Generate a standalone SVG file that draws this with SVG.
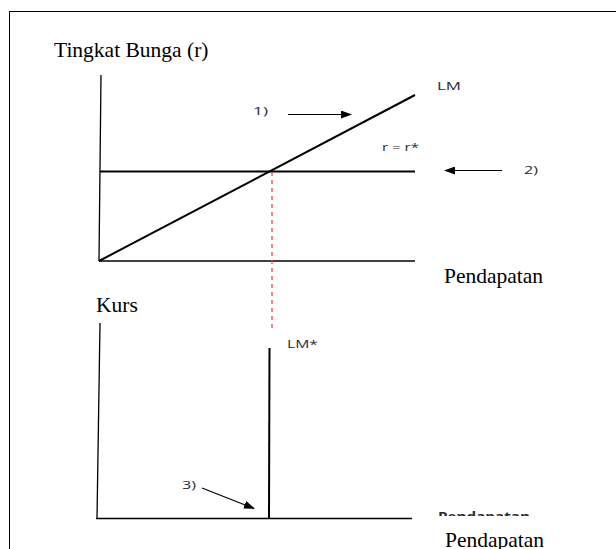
<svg xmlns="http://www.w3.org/2000/svg" width="616" height="549" viewBox="0 0 616 549">
<style>
.serif{font-family:"Liberation Serif","Times New Roman",serif;font-size:21.5px;fill:#000}
.small{font-family:"Open Sans","Liberation Sans",sans-serif;font-size:11.5px;fill:#2a2a33}
.ax{stroke:#000;stroke-width:1.3;fill:none}
.ln{stroke:#000;stroke-width:2;fill:none}
.arr{stroke:#000;stroke-width:1.2;fill:none}
</style>
<defs>
<marker id="ah" markerWidth="11" markerHeight="8" refX="10" refY="4" orient="auto" markerUnits="userSpaceOnUse">
<path d="M0,0 L11,4 L0,8 Z" fill="#000"/>
</marker>
<clipPath id="cl"><rect x="430" y="500" width="120" height="16"/></clipPath>
</defs>
<rect x="9.5" y="11.5" width="620" height="560" fill="none" stroke="#000" stroke-width="1"/>
<g id="top-chart">
<text class="serif" x="54" y="57">Tingkat Bunga (r)</text>
<line class="ax" x1="101" y1="75" x2="99" y2="261"/>
<line class="ax" x1="99" y1="261" x2="415" y2="261"/>
<text class="serif" x="444" y="283">Pendapatan</text>
</g>
<g id="LM">
<line class="ln" x1="99" y1="261" x2="415" y2="95"/>
<text class="small" x="437" y="90" textLength="24" lengthAdjust="spacingAndGlyphs">LM</text>
</g>
<g id="r-star">
<line class="ln" x1="100" y1="171.5" x2="415" y2="171.5"/>
<text class="small" x="382" y="151" textLength="37" lengthAdjust="spacingAndGlyphs">r = r*</text>
</g>
<g id="bottom-chart">
<text class="serif" x="96" y="312">Kurs</text>
<line class="ax" x1="100" y1="323" x2="97" y2="518.5"/>
<line class="ax" x1="96" y1="518.5" x2="412" y2="518.5"/>
<text class="small" x="438" y="521" clip-path="url(#cl)" font-weight="bold" font-size="14" textLength="92" lengthAdjust="spacingAndGlyphs">Pendapatan</text>
<text class="serif" x="445" y="547">Pendapatan</text>
</g>
<g id="LMstar">
<line class="ln" x1="269.5" y1="348" x2="269" y2="518"/>
<text class="small" x="287" y="348" textLength="31" lengthAdjust="spacingAndGlyphs">LM*</text>
</g>
<g id="labels">
<text class="small" x="253" y="115" textLength="15" lengthAdjust="spacingAndGlyphs">1)</text>
<text class="small" x="524" y="174" textLength="14" lengthAdjust="spacingAndGlyphs">2)</text>
<text class="small" x="182" y="489" textLength="14" lengthAdjust="spacingAndGlyphs">3)</text>
</g>
<g id="connectors">
<line x1="272" y1="172" x2="272" y2="328" stroke="#e04848" stroke-width="1.3" stroke-dasharray="4,4"/>
<line class="arr" x1="288" y1="114.5" x2="351" y2="114.5" marker-end="url(#ah)"/>
<line class="arr" x1="502" y1="170.5" x2="445" y2="170.5" marker-end="url(#ah)"/>
<line class="arr" x1="202" y1="488" x2="254" y2="508.5" marker-end="url(#ah)"/>
</g>
</svg>
